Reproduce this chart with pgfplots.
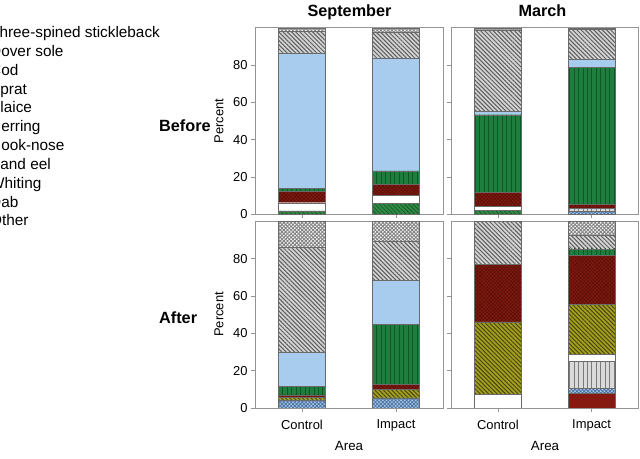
\documentclass[border=0pt]{standalone}
\usepackage{fontspec}
\setmainfont{Liberation Sans}
\usepackage{pgfplots}
\usepackage{pgfplotstable}
\pgfplotsset{compat=1.18}
\usetikzlibrary{patterns.meta}

\definecolor{frame}{HTML}{949494}
\definecolor{edge}{HTML}{6A6A6A}
\definecolor{cA}{HTML}{861A10}
\definecolor{cBbg}{HTML}{A9C6E4}
\definecolor{cBln}{HTML}{4C74A4}
\definecolor{cC1bg}{HTML}{2F8A45}
\definecolor{cC1ln}{HTML}{174F24}
\definecolor{cC2bg}{HTML}{DADADA}
\definecolor{cC2ln}{HTML}{7A7A7A}
\definecolor{cEbg}{HTML}{A39E1E}
\definecolor{cEln}{HTML}{45420E}
\definecolor{cFbg}{HTML}{7E1B10}
\definecolor{cFln}{HTML}{560C07}
\definecolor{cGbg}{HTML}{1E7E3E}
\definecolor{cGln}{HTML}{0F5727}
\definecolor{cH}{HTML}{A8CCEE}
\definecolor{cIbg}{HTML}{D4D4D4}
\definecolor{cIln}{HTML}{5C5C5C}
\definecolor{cJln}{HTML}{858585}

% columns: A=other, B=dab, C1=whiting, C2=sand eel, D=hook-nose, E=herring,
% F=plaice, G=sprat, H=cod, I=dover sole, J=three-spined stickleback
\pgfplotstableread{
x A B C1 C2 D E F G H I J
0 0 0 1.8 0 4.4 0 6.0 1.6 72.8 11.6 1.8
1 0 0 5.9 0 4.1 0 6.1 7.2 60.6 13.7 2.4
}\sepbefore
\pgfplotstableread{
x A B C1 C2 D E F G H I J
0 0 0 2.3 0 1.8 0 7.5 41.8 1.8 43.4 1.4
1 0 1.4 0 1.8 0 0 2.3 73.3 4.2 16.2 0.8
}\marbefore
\pgfplotstableread{
x A B C1 C2 D E F G H I J
0 0 4.4 0 0 0 1.3 1.4 4.5 18.3 56.1 14.0
1 0 5.4 0 0 0 4.5 2.6 32.3 23.7 20.8 10.7
}\sepafter
\pgfplotstableread{
x A B C1 C2 D E F G H I J
0 0 0 0 0 7.5 38.7 30.8 0 0 23.0 0
1 7.9 2.7 0 14.3 4.0 26.5 26.5 3.4 0 7.3 7.4
}\marafter

\pgfplotsset{
  sA/.style={fill=cA, draw=edge, line width=0.4bp},
  sB/.style={fill=cBbg, draw=edge, line width=0.4bp, postaction={pattern={Hatch[angle=45,distance=2.6pt,line width=0.8pt]}, pattern color=cBln}},
  sC1/.style={fill=cC1bg, draw=edge, line width=0.4bp, postaction={pattern={Lines[angle=-45,distance=3pt,line width=0.6pt]}, pattern color=cC1ln}},
  sC2/.style={fill=cC2bg, draw=edge, line width=0.4bp, postaction={pattern={Lines[angle=90,distance=4.5pt,line width=0.6pt]}, pattern color=cC2ln}},
  sD/.style={fill=white, draw=edge, line width=0.4bp},
  sE/.style={fill=cEbg, draw=edge, line width=0.4bp, postaction={pattern={Lines[angle=-45,distance=3pt,line width=0.9pt]}, pattern color=cEln}},
  sF/.style={fill=cFbg, draw=edge, line width=0.4bp, postaction={pattern={Hatch[angle=45,distance=2.6pt,line width=0.4pt]}, pattern color=cFln}},
  sG/.style={fill=cGbg, draw=edge, line width=0.4bp, postaction={pattern={Lines[angle=90,distance=4.5pt,line width=0.6pt]}, pattern color=cGln}},
  sH/.style={fill=cH, draw=edge, line width=0.4bp},
  sI/.style={fill=cIbg, draw=edge, line width=0.4bp, postaction={pattern={Lines[angle=-45,distance=3pt,line width=1pt]}, pattern color=cIln}},
  sJ/.style={fill=white, draw=edge, line width=0.4bp, postaction={pattern={Hatch[angle=45,distance=2.6pt,line width=1pt]}, pattern color=cJln}},
  panel/.style={
    scale only axis, width=188bp, height=186.5bp,
    anchor=south west,
    xmin=-0.5, xmax=1.5, ymin=0, ymax=100,
    ybar stacked, bar width=0.5,
    xtick={0,1}, ytick={0,20,40,60,80},
    xtick pos=left, ytick pos=left,
    tick align=outside, major tick length=4bp,
    axis line style={draw=frame, line width=0.9bp},
    tick style={draw=frame, line width=0.7bp},
    tick label style={font=\fontsize{13}{15}\selectfont},
    /pgf/number format/assume math mode=true,
    xticklabel style={yshift=-4.5bp},
    xticklabels={}, yticklabels={},
  },
}

\newcommand\stackbars[1]{%
  \addplot[sA] table[x=x,y=A]{#1};
  \addplot[sB] table[x=x,y=B]{#1};
  \addplot[sC1] table[x=x,y=C1]{#1};
  \addplot[sC2] table[x=x,y=C2]{#1};
  \addplot[sD] table[x=x,y=D]{#1};
  \addplot[sE] table[x=x,y=E]{#1};
  \addplot[sF] table[x=x,y=F]{#1};
  \addplot[sG] table[x=x,y=G]{#1};
  \addplot[sH] table[x=x,y=H]{#1};
  \addplot[sI] table[x=x,y=I]{#1};
  \addplot[sJ] table[x=x,y=J]{#1};
}

\begin{document}
\begin{tikzpicture}
\useasboundingbox (0,0) rectangle (640bp,459bp);
\clip (0,0) rectangle (640bp,459bp);

\begin{axis}[panel, at={(255bp,244.7bp)}, yticklabels={0,20,40,60,80}]
  \stackbars{\sepbefore}
\end{axis}
\begin{axis}[panel, at={(451bp,244.7bp)}, width=187.5bp]
  \stackbars{\marbefore}
\end{axis}
\begin{axis}[panel, at={(255bp,51bp)}, yticklabels={0,20,40,60,80}, xticklabels={Control,Impact}]
  \stackbars{\sepafter}
\end{axis}
\begin{axis}[panel, at={(451bp,51bp)}, width=187.5bp, xticklabels={Control,Impact}]
  \stackbars{\marafter}
\end{axis}

% titles
\node[anchor=base, font=\fontsize{16.3}{19}\selectfont\bfseries, inner sep=0] at (349.5bp,442.3bp) {September};
\node[anchor=base, font=\fontsize{16.3}{19}\selectfont\bfseries, inner sep=0] at (542.5bp,442bp) {March};
\node[anchor=base west, font=\fontsize{16.3}{19}\selectfont\bfseries, inner sep=0] at (159bp,327.3bp) {Before};
\node[anchor=base west, font=\fontsize{16.3}{19}\selectfont\bfseries, inner sep=0] at (159bp,135.7bp) {After};
% axis labels
\node[rotate=90, font=\fontsize{13}{15}\selectfont, inner sep=0] at (219bp,338bp) {Percent};
\node[rotate=90, font=\fontsize{13}{15}\selectfont, inner sep=0] at (219bp,144.5bp) {Percent};
\node[anchor=base, font=\fontsize{13.4}{15}\selectfont, inner sep=0] at (349bp,8.3bp) {Area};
\node[anchor=base, font=\fontsize{13.4}{15}\selectfont, inner sep=0] at (545bp,8.3bp) {Area};

% legend (cropped at the left edge, as in the reference)
\foreach \t [count=\i from 0] in {Three-spined stickleback,Dover sole,Cod,Sprat,Plaice,Herring,Hook-nose,Sand eel,Whiting,Dab,Other}{
  \node[anchor=base west, font=\fontsize{15.4}{18}\selectfont, inner sep=0] at (-10bp,{(459-37.5-18.84*\i)*1bp}) {\t};
}
\end{tikzpicture}
\end{document}
